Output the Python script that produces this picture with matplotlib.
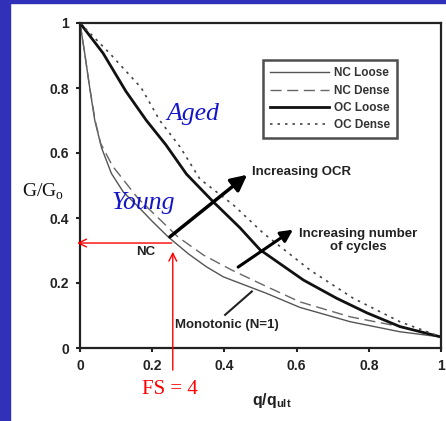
import matplotlib
matplotlib.use("Agg")
import matplotlib.pyplot as plt
from matplotlib.patches import Rectangle

# ---- data ----
nc_loose_x = [0, 0.013, 0.027, 0.041, 0.06, 0.087, 0.12, 0.161, 0.2, 0.244, 0.3, 0.35, 0.397, 0.425, 0.517, 0.609, 0.748, 0.886, 1.0]
nc_loose_y = [1, 0.907, 0.80, 0.70, 0.615, 0.537, 0.48, 0.435, 0.39, 0.342, 0.29, 0.25, 0.219, 0.207, 0.168, 0.125, 0.081, 0.050, 0.034]

nc_dense_x = [0, 0.013, 0.027, 0.042, 0.057, 0.09, 0.161, 0.271, 0.342, 0.42, 0.517, 0.609, 0.748, 0.886, 1.0]
nc_dense_y = [1, 0.907, 0.80, 0.70, 0.63, 0.56, 0.46, 0.342, 0.286, 0.24, 0.189, 0.142, 0.096, 0.066, 0.034]

oc_loose_x = [0, 0.064, 0.127, 0.184, 0.238, 0.295, 0.369, 0.443, 0.499, 0.619, 0.711, 0.795, 0.886, 1.0]
oc_loose_y = [1, 0.907, 0.79, 0.70, 0.625, 0.535, 0.45, 0.37, 0.302, 0.209, 0.153, 0.108, 0.066, 0.034]

oc_dense_x = [0, 0.082, 0.17, 0.221, 0.277, 0.332, 0.425, 0.508, 0.637, 0.757, 0.886, 1.0]
oc_dense_y = [1, 0.907, 0.80, 0.70, 0.619, 0.52, 0.44, 0.353, 0.24, 0.153, 0.081, 0.034]

series_labels = ["NC Loose", "NC Dense", "OC Loose", "OC Dense"]
tick_vals = [0, 0.2, 0.4, 0.6, 0.8, 1]
tick_labels = ["0", "0.2", "0.4", "0.6", "0.8", "1"]

# ---- figure ----
fig = plt.figure(figsize=(4.46, 4.21), dpi=100)
fig.patch.set_facecolor("white")
blue = "#3030b8"
fig.patches.append(Rectangle((0, 0), 10 / 446, 1, transform=fig.transFigure, color=blue, zorder=0))
fig.patches.append(Rectangle((0, 1 - 3 / 421), 1, 3 / 421, transform=fig.transFigure, color=blue, zorder=0))

ax = fig.add_axes([80 / 446, 1 - 348 / 421, 361 / 446, 325 / 421])
ax.set_xlim(0, 1)
ax.set_ylim(0, 1)

ax.plot(nc_loose_x, nc_loose_y, color="#555555", lw=1.0, label=series_labels[0])
ax.plot(nc_dense_x, nc_dense_y, color="#666666", lw=1.0, dashes=(8, 4), label=series_labels[1])
ax.plot(oc_loose_x, oc_loose_y, color="#111111", lw=2.0, label=series_labels[2])
ax.plot(oc_dense_x, oc_dense_y, color="#444444", lw=1.2, dashes=(1.5, 3), label=series_labels[3])

for s in ax.spines.values():
    s.set_linewidth(1.6)
    s.set_color("#222222")

ax.set_xticks(tick_vals)
ax.set_xticklabels(tick_labels)
ax.set_yticks(tick_vals)
ax.set_yticklabels(tick_labels)
ax.tick_params(axis="both", direction="out", length=3, width=1.5, colors="#222222",
               labelsize=10, pad=5)
for lab in ax.get_xticklabels() + ax.get_yticklabels():
    lab.set_fontweight("bold")
    lab.set_fontfamily("Liberation Sans")

leg = ax.legend(loc="upper left", bbox_to_anchor=(0.507, 0.885), frameon=True, fancybox=False,
                prop={"family": "Liberation Sans", "weight": "bold", "size": 8.5},
                handlelength=5.0, labelspacing=0.45, borderpad=0.6, handletextpad=0.4,
                borderaxespad=0)
leg.get_frame().set_edgecolor("#222222")
leg.get_frame().set_linewidth(1.8)
for t in leg.get_texts():
    t.set_color("#333333")

# ---- annotations ----
txt = "#222222"
ax.text(0.313, 0.72, "Aged", color="#1414c8", fontsize=18.5, fontstyle="italic",
        family="Liberation Serif", ha="center", va="center")
ax.text(0.175, 0.447, "Young", color="#1414c8", fontsize=18.5, fontstyle="italic",
        family="Liberation Serif", ha="center", va="center")
fig.text(43 / 446, 1 - 192 / 421, r"G/G$_\mathregular{o}$", fontsize=14, family="Liberation Serif",
         ha="center", va="center", color="#111111")

sans = dict(family="Liberation Sans", weight="bold", fontsize=9.5, color=txt)
ax.text(0.476, 0.542, "Increasing OCR", ha="left", va="center", **sans)
ax.text(0.770, 0.332, "Increasing number\nof cycles", ha="center", va="center",
        multialignment="center", linespacing=1.1, **sans)
ax.text(0.407, 0.071, "Monotonic (N=1)", ha="center", va="center", **sans)
ax.text(0.183, 0.295, "NC", ha="center", va="center", **sans)

ax.annotate("", xy=(0.463, 0.533), xytext=(0.249, 0.342),
            arrowprops=dict(arrowstyle="-|>", lw=2.5, color="black", mutation_scale=24,
                            shrinkA=0, shrinkB=0))
ax.annotate("", xy=(0.590, 0.364), xytext=(0.438, 0.249),
            arrowprops=dict(arrowstyle="-|>", lw=2.2, color="black", mutation_scale=18,
                            shrinkA=0, shrinkB=0))
ax.plot([0.402, 0.476], [0.102, 0.174], color="#222222", lw=1.5)

# red FS = 4 markers
ax.annotate("", xy=(-0.008, 0.323), xytext=(0.254, 0.323), annotation_clip=False,
            arrowprops=dict(arrowstyle="->", lw=1.0, color="red", mutation_scale=14,
                            shrinkA=0, shrinkB=0))
ax.annotate("", xy=(0.257, 0.296), xytext=(0.257, -0.068), annotation_clip=False,
            arrowprops=dict(arrowstyle="->", lw=1.0, color="red", mutation_scale=14,
                            shrinkA=0, shrinkB=0))
ax.text(0.249, -0.129, "FS = 4", color="red", fontsize=15, family="Liberation Serif",
        ha="center", va="center", clip_on=False)
ax.text(0.532, -0.16, r"q/q$_\mathregular{ult}$", ha="center", va="center", clip_on=False,
        family="Liberation Sans", weight="bold", fontsize=11.5, color=txt)

fig.savefig("out.png", dpi=100)
